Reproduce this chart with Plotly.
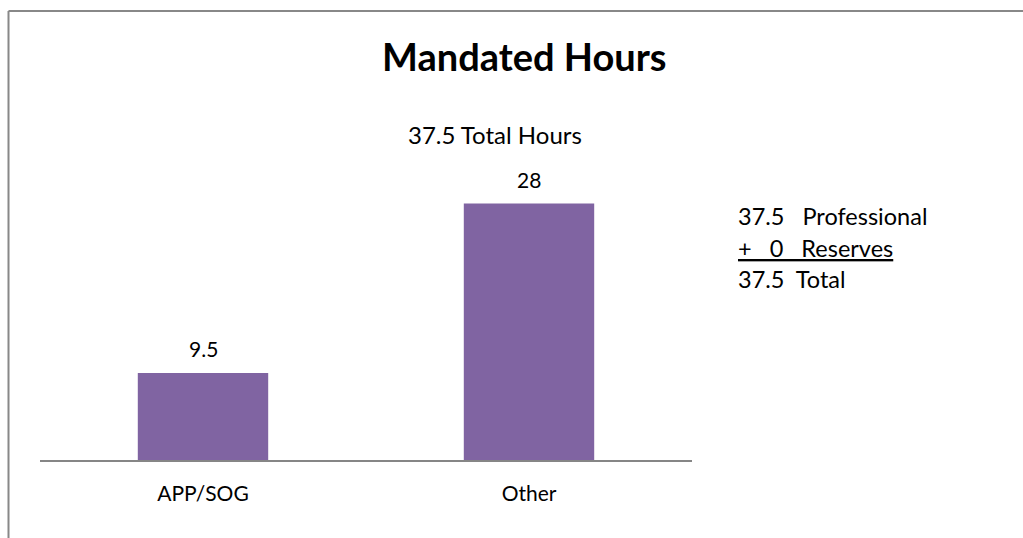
import plotly.graph_objects as go

categories = ["APP/SOG", "Other"]
hours = [9.5, 28]
subtitle = "37.5 Total Hours"
side_lines = ["37.5\u00a0\u00a0\u00a0Professional",
              "<u>+\u00a0\u00a0\u00a00\u00a0\u00a0\u00a0Reserves</u>",
              "37.5\u00a0\u00a0Total"]

W, H = 1023, 538
L, R, T, B = 40, 692, 120, 460  # plot area in pixels


def px(x):
    return (x - L) / (R - L)


def py(y):
    return (B - y) / (B - T)


font = "Lato, 'Open Sans', sans-serif"
fig = go.Figure()
fig.add_trace(go.Bar(
    x=categories, y=hours,
    width=0.4,
    marker=dict(color="#8064A2", line=dict(width=0)),
))

for c, v in zip(categories, hours):
    fig.add_annotation(x=c, y=v, text=f"{v:g}", showarrow=False,
                       yshift=24, font=dict(size=21, color="#000000"))

fig.add_annotation(xref="paper", yref="paper", x=px(495), y=py(135),
                   text=subtitle, showarrow=False,
                   xanchor="center", yanchor="middle",
                   font=dict(size=24, color="#000000"))
fig.add_annotation(xref="paper", yref="paper", x=px(524), y=py(56),
                   text="<b>Mandated Hours</b>", showarrow=False,
                   xanchor="center", yanchor="middle",
                   font=dict(size=38, color="#000000"))
for i, line in enumerate(side_lines):
    fig.add_annotation(xref="paper", yref="paper", x=px(736), y=py(216 + i * 31.5),
                       text=line, showarrow=False,
                       xanchor="left", yanchor="middle",
                       font=dict(size=23.5, color="#000000"))

# outer frame (top and left edges)
fig.add_shape(type="line", xref="paper", yref="paper",
              x0=px(8.5), x1=px(1030), y0=py(11), y1=py(11),
              line=dict(color="#888888", width=2))
fig.add_shape(type="line", xref="paper", yref="paper",
              x0=px(8.5), x1=px(8.5), y0=py(11), y1=py(545),
              line=dict(color="#888888", width=2))

fig.update_layout(
    width=W, height=H,
    margin=dict(l=L, r=W - R, t=T, b=H - B, pad=0),
    paper_bgcolor="white", plot_bgcolor="white",
    font=dict(family=font, color="#000000"),
    showlegend=False,
    xaxis=dict(showline=True, linecolor="#868686", linewidth=2,
               ticks="outside", ticklen=14, tickcolor="rgba(0,0,0,0)",
               tickfont=dict(size=21), showgrid=False),
    yaxis=dict(range=[0, 37.1], visible=False, showgrid=False, zeroline=False),
)

fig.write_html("out.html", config={"displayModeBar": False},
               post_script="document.body.style.margin='0';")
